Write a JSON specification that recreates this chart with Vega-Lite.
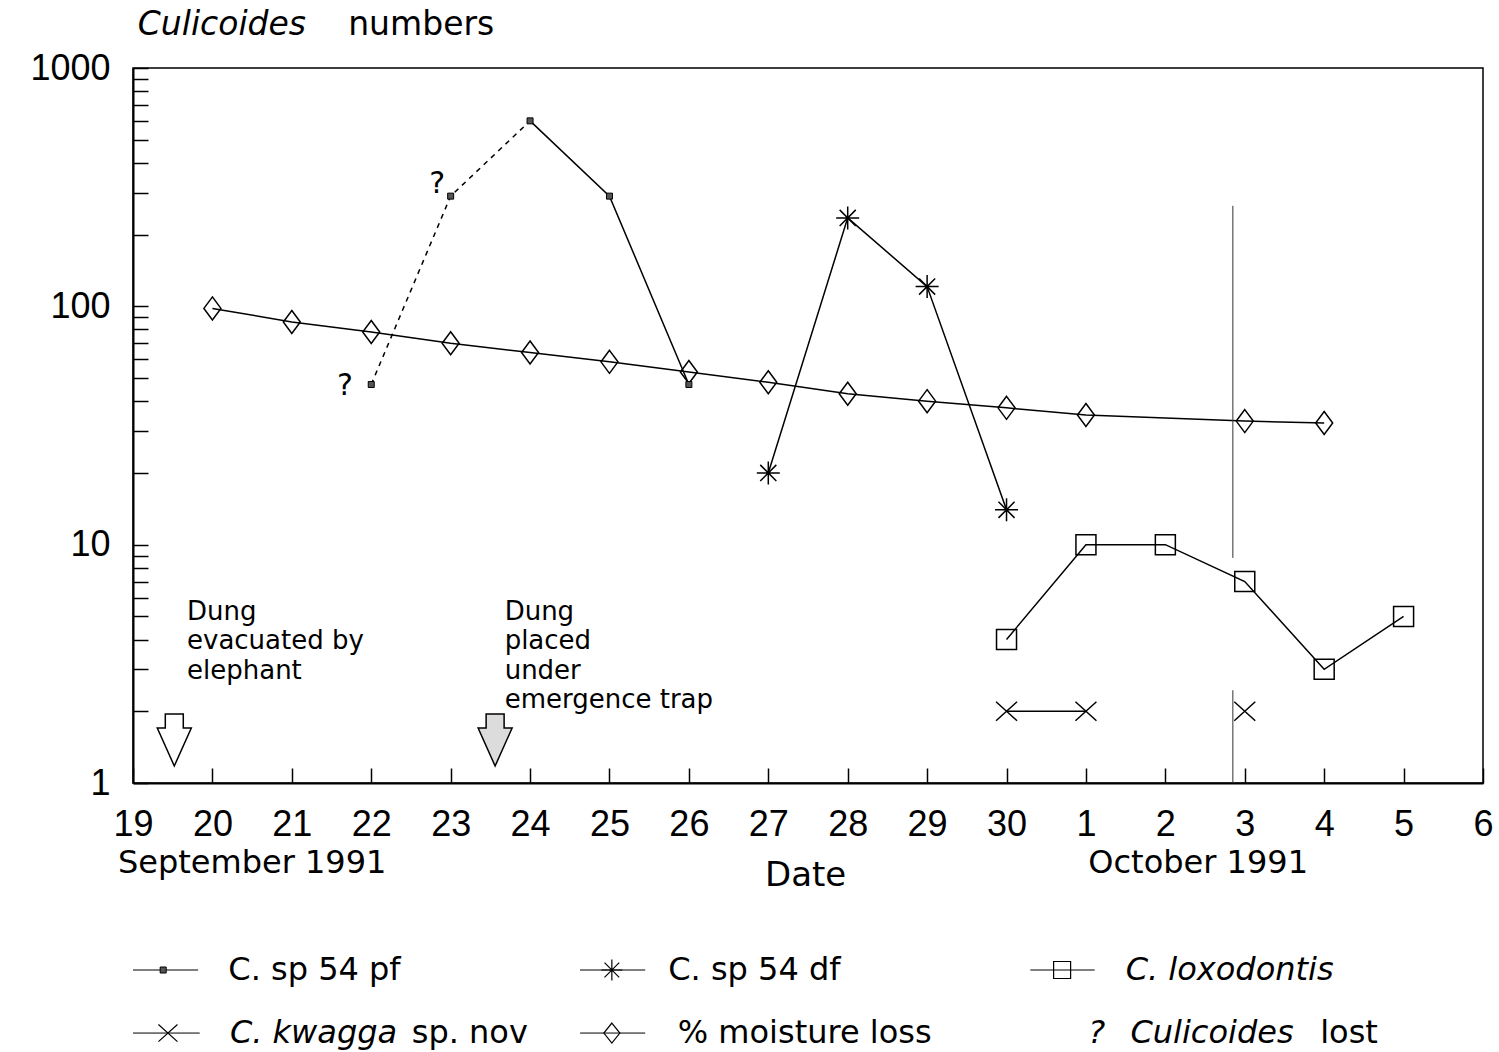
{
  "$schema": "https://vega.github.io/schema/vega-lite/v6.json",
  "width": 1350,
  "height": 715,
  "autosize": {"type": "none"},
  "padding": {"left": 133, "top": 68, "right": 16, "bottom": 269},
  "background": "white",
  "config": {"view": {"stroke": "black", "strokeWidth": 1.5}},
  "datasets": {
    "series": [
      {"series": "moisture", "day": 20, "value": 98},
      {"series": "moisture", "day": 21, "value": 86},
      {"series": "moisture", "day": 22, "value": 78},
      {"series": "moisture", "day": 23, "value": 70},
      {"series": "moisture", "day": 24, "value": 64},
      {"series": "moisture", "day": 25, "value": 58.5},
      {"series": "moisture", "day": 26, "value": 53},
      {"series": "moisture", "day": 27, "value": 48},
      {"series": "moisture", "day": 28, "value": 43},
      {"series": "moisture", "day": 29, "value": 40},
      {"series": "moisture", "day": 30, "value": 37.5},
      {"series": "moisture", "day": 31, "value": 35},
      {"series": "moisture", "day": 33, "value": 33},
      {"series": "moisture", "day": 34, "value": 32.4},
      {"series": "pf", "day": 22, "value": 47},
      {"series": "pf", "day": 23, "value": 290},
      {"series": "pf", "day": 24, "value": 600},
      {"series": "pf", "day": 25, "value": 290},
      {"series": "pf", "day": 26, "value": 47},
      {"series": "df", "day": 27, "value": 20},
      {"series": "df", "day": 28, "value": 235},
      {"series": "df", "day": 29, "value": 121},
      {"series": "df", "day": 30, "value": 14},
      {"series": "lox", "day": 30, "value": 4},
      {"series": "lox", "day": 31, "value": 10},
      {"series": "lox", "day": 32, "value": 10},
      {"series": "lox", "day": 33, "value": 7},
      {"series": "lox", "day": 34, "value": 3},
      {"series": "lox", "day": 35, "value": 5},
      {"series": "kwagga", "day": 30, "value": 2},
      {"series": "kwagga", "day": 31, "value": 2},
      {"series": "kwagga", "day": 33, "value": 2}
    ],
    "marker": [
      {"day": 32.85, "value": 264, "value2": 8.8},
      {"day": 32.85, "value": 2.45, "value2": 1}
    ],
    "arrows": [
      {"kind": "evacuated", "day": 19.52, "value": 1.515},
      {"kind": "placed", "day": 23.56, "value": 1.515}
    ],
    "notes": [
      {"day": 19.68, "value": 4.83, "text": "Dung\nevacuated by\nelephant"},
      {"day": 23.68, "value": 4.83, "text": "Dung\nplaced\nunder\nemergence trap"}
    ],
    "lost": [
      {"day": 21.67, "value": 42.5, "text": "?"},
      {"day": 22.83, "value": 299, "text": "?"}
    ],
    "labels": [
      {"group": "title_i", "day": 19.06, "value": 1377, "text": "Culicoides"},
      {"group": "title_n", "day": 21.71, "value": 1377, "text": "numbers"},
      {"group": "month", "day": 18.81, "value": 0.419, "text": "September 1991"},
      {"group": "month", "day": 31.03, "value": 0.419, "text": "October 1991"},
      {"group": "date", "day": 27.47, "value": 0.37, "text": "Date"}
    ],
    "legend": [
      {"series": "pf", "day": 19.38, "x0": 19.0, "x1": 19.82, "value": 0.1642},
      {"series": "df", "day": 25.03, "x0": 24.63, "x1": 25.45, "value": 0.1642},
      {"series": "lox", "day": 30.7, "x0": 30.3, "x1": 31.11, "value": 0.1642},
      {"series": "kwagga", "day": 19.44, "x0": 19.0, "x1": 19.84, "value": 0.0893},
      {"series": "moisture", "day": 25.03, "x0": 24.63, "x1": 25.45, "value": 0.0893}
    ],
    "legendText": [
      {"style": "normal", "day": 20.2, "value": 0.1642, "text": "C. sp 54 pf"},
      {"style": "normal", "day": 25.74, "value": 0.1642, "text": "C. sp 54 df"},
      {"style": "italic", "day": 31.5, "value": 0.1642, "text": "C. loxodontis"},
      {"style": "italic", "day": 20.22, "value": 0.0893, "text": "C. kwagga"},
      {"style": "normal", "day": 22.51, "value": 0.0893, "text": "sp. nov"},
      {"style": "normal", "day": 25.86, "value": 0.0893, "text": "% moisture loss"},
      {"style": "italic", "day": 31.03, "value": 0.0893, "text": "?"},
      {"style": "italic", "day": 31.56, "value": 0.0893, "text": "Culicoides"},
      {"style": "normal", "day": 33.95, "value": 0.0893, "text": "lost"}
    ]
  },
  "encoding": {
    "x": {
      "field": "day",
      "type": "quantitative",
      "scale": {"domain": [19, 36], "nice": false, "zero": false},
      "axis": {
        "title": null,
        "values": [19, 20, 21, 22, 23, 24, 25, 26, 27, 28, 29, 30, 31, 32, 33, 34, 35, 36],
        "labelExpr": "datum.value > 30 ? '' + (datum.value - 30) : datum.label",
        "format": "d",
        "grid": false,
        "tickSize": -15,
        "tickWidth": 1.5,
        "tickColor": "black",
        "domainColor": "black",
        "domainWidth": 2,
        "labelFont": "Liberation Sans",
        "labelFontSize": 36,
        "labelColor": "black",
        "labelPadding": 39,
        "labelFlush": false,
        "labelOverlap": false,
        "labelBound": false
      }
    },
    "y": {
      "field": "value",
      "type": "quantitative",
      "scale": {"type": "log", "domain": [1, 1000], "nice": false},
      "axis": {
        "title": null,
        "values": [1, 2, 3, 4, 5, 6, 7, 8, 9, 10, 20, 30, 40, 50, 60, 70, 80, 90, 100, 200, 300, 400, 500, 600, 700, 800, 900, 1000],
        "format": "d",
        "labelExpr": "(datum.value == 1 || datum.value == 10 || datum.value == 100 || datum.value == 1000) ? datum.label : ''",
        "grid": false,
        "tickSize": -15,
        "tickWidth": 1.5,
        "tickColor": "black",
        "domainColor": "black",
        "domainWidth": 2,
        "labelFont": "Liberation Sans",
        "labelFontSize": 36,
        "labelColor": "black",
        "labelPadding": 38,
        "labelFlush": false,
        "labelOverlap": false,
        "labelBound": false
      }
    }
  },
  "layer": [
    {
      "data": {"name": "series"},
      "transform": [{"filter": "datum.series == 'moisture'"}],
      "mark": {"type": "line", "color": "black", "strokeWidth": 1.5}
    },
    {
      "data": {"name": "series"},
      "transform": [{"filter": "datum.series == 'moisture'"}],
      "mark": {"type": "point", "shape": "M0,-1L0.74,0L0,1L-0.74,0Z", "size": 529, "filled": false, "stroke": "black", "strokeWidth": 1.5, "opacity": 1}
    },
    {
      "data": {"name": "series"},
      "transform": [{"filter": "datum.series == 'pf' && datum.day <= 24"}],
      "mark": {"type": "line", "color": "black", "strokeWidth": 1.5, "strokeDash": [5, 5]}
    },
    {
      "data": {"name": "series"},
      "transform": [{"filter": "datum.series == 'pf' && datum.day >= 24"}],
      "mark": {"type": "line", "color": "black", "strokeWidth": 1.5}
    },
    {
      "data": {"name": "series"},
      "transform": [{"filter": "datum.series == 'pf'"}],
      "mark": {"type": "point", "shape": "square", "size": 36, "filled": true, "fill": "#555", "stroke": "black", "strokeWidth": 1, "opacity": 1}
    },
    {
      "data": {"name": "series"},
      "transform": [{"filter": "datum.series == 'df'"}],
      "mark": {"type": "line", "color": "black", "strokeWidth": 1.5}
    },
    {
      "data": {"name": "series"},
      "transform": [{"filter": "datum.series == 'df'"}],
      "mark": {"type": "point", "shape": "M0,-1L0,1M-1,0L1,0M-0.7,-0.7L0.7,0.7M-0.7,0.7L0.7,-0.7", "size": 529, "filled": false, "stroke": "black", "strokeWidth": 1.5, "opacity": 1}
    },
    {
      "data": {"name": "series"},
      "transform": [{"filter": "datum.series == 'lox'"}],
      "mark": {"type": "line", "color": "black", "strokeWidth": 1.5}
    },
    {
      "data": {"name": "series"},
      "transform": [{"filter": "datum.series == 'lox'"}],
      "mark": {"type": "point", "shape": "square", "size": 400, "filled": false, "stroke": "black", "strokeWidth": 1.5, "opacity": 1}
    },
    {
      "data": {"name": "series"},
      "transform": [{"filter": "datum.series == 'kwagga' && datum.day <= 31"}],
      "mark": {"type": "line", "color": "black", "strokeWidth": 1.5}
    },
    {
      "data": {"name": "series"},
      "transform": [{"filter": "datum.series == 'kwagga'"}],
      "mark": {"type": "point", "shape": "M-1,-0.9L1,0.9M-1,0.9L1,-0.9", "size": 441, "filled": false, "stroke": "black", "strokeWidth": 1.5, "opacity": 1}
    },
    {
      "data": {"name": "marker"},
      "mark": {"type": "rule", "color": "#333", "strokeWidth": 1},
      "encoding": {"y2": {"field": "value2"}}
    },
    {
      "data": {"name": "arrows"},
      "transform": [{"filter": "datum.kind == 'evacuated'"}],
      "mark": {"type": "point", "shape": "M-0.346,-1L0.346,-1L0.346,-0.46L0.654,-0.46L0,1L-0.654,-0.46L-0.346,-0.46Z", "size": 2704, "filled": true, "fill": "white", "stroke": "black", "strokeWidth": 1.5, "opacity": 1}
    },
    {
      "data": {"name": "arrows"},
      "transform": [{"filter": "datum.kind == 'placed'"}],
      "mark": {"type": "point", "shape": "M-0.346,-1L0.346,-1L0.346,-0.46L0.654,-0.46L0,1L-0.654,-0.46L-0.346,-0.46Z", "size": 2704, "filled": true, "fill": "#dcdcdc", "stroke": "black", "strokeWidth": 1.5, "opacity": 1}
    },
    {
      "data": {"name": "notes"},
      "mark": {"type": "text", "align": "left", "baseline": "alphabetic", "font": "DejaVu Sans", "fontSize": 26, "lineHeight": 29.5, "lineBreak": "\n", "color": "black"},
      "encoding": {"text": {"field": "text"}}
    },
    {
      "data": {"name": "lost"},
      "mark": {"type": "text", "align": "center", "baseline": "alphabetic", "font": "DejaVu Sans", "fontSize": 30, "color": "black"},
      "encoding": {"text": {"field": "text"}}
    },
    {
      "data": {"name": "labels"},
      "transform": [{"filter": "datum.group == 'title_i'"}],
      "mark": {"type": "text", "align": "left", "baseline": "alphabetic", "font": "DejaVu Sans", "fontSize": 33, "fontStyle": "italic", "color": "black"},
      "encoding": {"text": {"field": "text"}}
    },
    {
      "data": {"name": "labels"},
      "transform": [{"filter": "datum.group == 'title_n'"}],
      "mark": {"type": "text", "align": "left", "baseline": "alphabetic", "font": "DejaVu Sans", "fontSize": 33, "color": "black"},
      "encoding": {"text": {"field": "text"}}
    },
    {
      "data": {"name": "labels"},
      "transform": [{"filter": "datum.group == 'month'"}],
      "mark": {"type": "text", "align": "left", "baseline": "alphabetic", "font": "DejaVu Sans", "fontSize": 32, "color": "black"},
      "encoding": {"text": {"field": "text"}}
    },
    {
      "data": {"name": "labels"},
      "transform": [{"filter": "datum.group == 'date'"}],
      "mark": {"type": "text", "align": "center", "baseline": "alphabetic", "font": "DejaVu Sans", "fontSize": 34, "color": "black"},
      "encoding": {"text": {"field": "text"}}
    },
    {
      "data": {"name": "legend"},
      "mark": {"type": "rule", "color": "black", "strokeWidth": 1},
      "encoding": {"x": {"field": "x0", "type": "quantitative"}, "x2": {"field": "x1"}}
    },
    {
      "data": {"name": "legend"},
      "transform": [{"filter": "datum.series == 'pf'"}],
      "mark": {"type": "point", "shape": "square", "size": 36, "filled": true, "fill": "#555", "stroke": "black", "strokeWidth": 1, "opacity": 1}
    },
    {
      "data": {"name": "legend"},
      "transform": [{"filter": "datum.series == 'df'"}],
      "mark": {"type": "point", "shape": "M0,-1L0,1M-1,0L1,0M-0.7,-0.7L0.7,0.7M-0.7,0.7L0.7,-0.7", "size": 441, "filled": false, "stroke": "black", "strokeWidth": 1.2, "opacity": 1}
    },
    {
      "data": {"name": "legend"},
      "transform": [{"filter": "datum.series == 'lox'"}],
      "mark": {"type": "point", "shape": "square", "size": 289, "filled": false, "stroke": "black", "strokeWidth": 1.2, "opacity": 1}
    },
    {
      "data": {"name": "legend"},
      "transform": [{"filter": "datum.series == 'kwagga'"}],
      "mark": {"type": "point", "shape": "M-1,-0.9L1,0.9M-1,0.9L1,-0.9", "size": 361, "filled": false, "stroke": "black", "strokeWidth": 1.2, "opacity": 1}
    },
    {
      "data": {"name": "legend"},
      "transform": [{"filter": "datum.series == 'moisture'"}],
      "mark": {"type": "point", "shape": "M0,-1L0.8,0L0,1L-0.8,0Z", "size": 400, "filled": false, "stroke": "black", "strokeWidth": 1.2, "opacity": 1}
    },
    {
      "data": {"name": "legendText"},
      "transform": [{"filter": "datum.style == 'normal'"}],
      "mark": {"type": "text", "align": "left", "baseline": "middle", "font": "DejaVu Sans", "fontSize": 32, "color": "black"},
      "encoding": {"text": {"field": "text"}}
    },
    {
      "data": {"name": "legendText"},
      "transform": [{"filter": "datum.style == 'italic'"}],
      "mark": {"type": "text", "align": "left", "baseline": "middle", "font": "DejaVu Sans", "fontSize": 32, "fontStyle": "italic", "color": "black"},
      "encoding": {"text": {"field": "text"}}
    }
  ]
}
